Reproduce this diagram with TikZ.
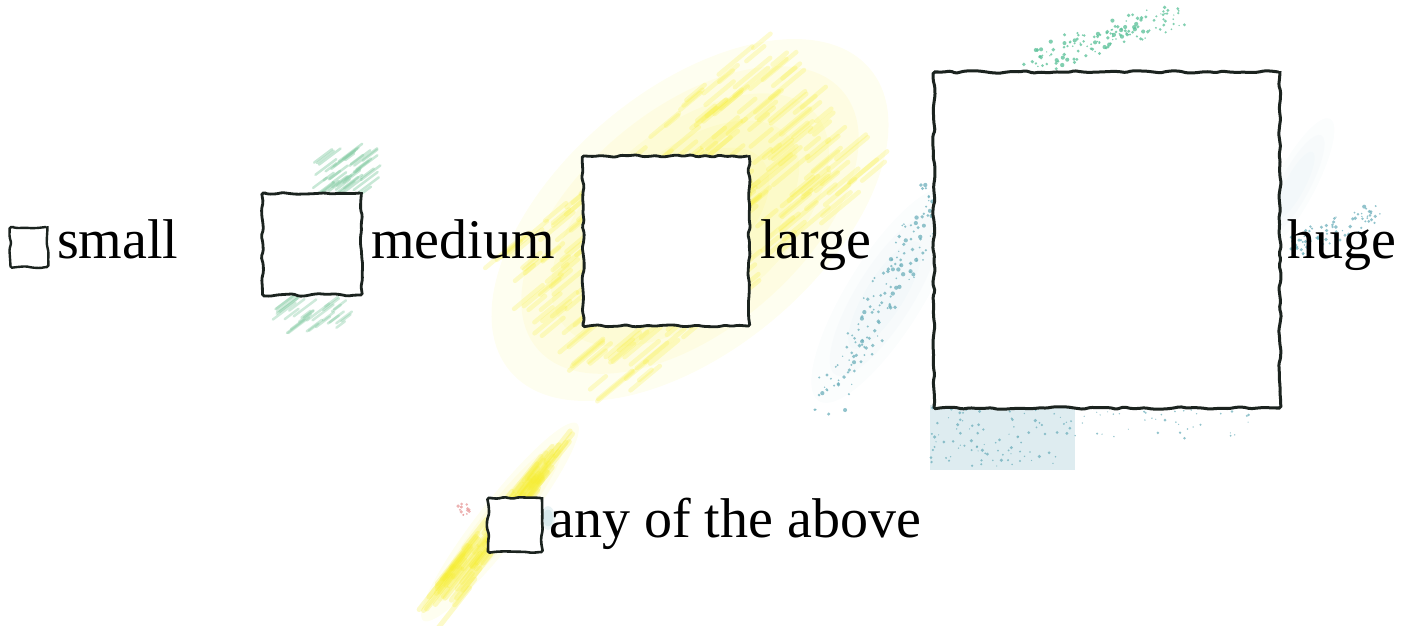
\documentclass[tikz,border=0pt]{standalone}
\usepackage{fontspec}
\setmainfont{Liberation Serif}
\usetikzlibrary{decorations.pathmorphing}
\definecolor{ink}{HTML}{1B231F}
\definecolor{yel}{HTML}{F5EC2C}
\definecolor{tealc}{HTML}{6DAFBB}
\definecolor{greenc}{HTML}{86CBA4}
\definecolor{paleblue}{HTML}{C2DCE4}
\definecolor{pinkc}{HTML}{E79A9A}
\tikzset{
  wob/.style={draw=ink, line width=#1, fill=white, inner sep=0pt, decorate,
    decoration={random steps, segment length=7pt, amplitude=1.3pt}, rounded corners=1.5pt},
  lbl/.style={anchor=base west, inner sep=0pt, font=\fontsize{56}{60}\selectfont, text=black},
  pencil/.style={line cap=round, opacity=0.22, line width=#1},
  speck/.style={fill=#1, opacity=0.75},
  haze/.style={fill=#1, opacity=0.07},
}
\begin{document}
\begin{tikzpicture}[x=1pt,y=-1pt]
\useasboundingbox (0,0) rectangle (1401,626);
\pgfmathsetseed{11}
% ---- yellow haze around the large square
\foreach \f in {1.0,0.85,0.7,0.55,0.4}{
  \fill[haze=yel, rotate around={40:(690,220)}] (690,220) ellipse ({235*\f} and {130*\f});
}
\foreach \i in {1,...,280}{
  \pgfmathsetmacro\t{rand}
  \pgfmathsetmacro\s{rand}
  \pgfmathsetmacro\L{8+18*rnd}
  \pgfmathsetmacro\cx{690+175*\t*0.77+95*\s*0.64}
  \pgfmathsetmacro\cy{220-175*\t*0.64+95*\s*0.77}
  \draw[yel, pencil=4.5pt] (\cx-\L*0.77,\cy+\L*0.64) -- (\cx+\L*0.77,\cy-\L*0.64);
}
% ---- yellow stroke near "any of the above"
\foreach \f in {1.0,0.8,0.6}{
  \fill[haze=yel, rotate around={52:(500,522)}] (500,522) ellipse ({125*\f} and {22*\f});
}
\foreach \i in {1,...,80}{
  \pgfmathsetmacro\t{rand}
  \pgfmathsetmacro\s{rand}
  \pgfmathsetmacro\L{10+20*rnd}
  \pgfmathsetmacro\cx{500+100*\t*0.62+(12-6*\t)*\s*0.79}
  \pgfmathsetmacro\cy{522-100*\t*0.79+(12-6*\t)*\s*0.62}
  \draw[yel, pencil=5pt, opacity=0.25] (\cx-\L*0.62,\cy+\L*0.79) -- (\cx+\L*0.62,\cy-\L*0.79);
}
% ---- green strokes near the medium square
\foreach \i in {1,...,40}{
  \pgfmathsetmacro\cx{345+28*rand}
  \pgfmathsetmacro\cy{172+20*rand}
  \pgfmathsetmacro\L{5+10*rnd}
  \draw[greenc, pencil=2.5pt, opacity=0.45] (\cx-\L*0.8,\cy+\L*0.6) -- (\cx+\L*0.8,\cy-\L*0.6);
}
\foreach \i in {1,...,30}{
  \pgfmathsetmacro\cx{315+32*rand}
  \pgfmathsetmacro\cy{315+14*rand}
  \pgfmathsetmacro\L{5+10*rnd}
  \draw[greenc, pencil=2.5pt, opacity=0.4] (\cx-\L*0.8,\cy+\L*0.6) -- (\cx+\L*0.8,\cy-\L*0.6);
}
% ---- pale blue patch and teal specks around the huge square
\fill[paleblue, opacity=0.55] (930,405) rectangle (1075,470);
\foreach \f in {1.0,0.75,0.5}{
  \fill[haze=paleblue, rotate around={58:(885,295)}] (885,295) ellipse ({125*\f} and {38*\f});
  \fill[haze=paleblue, rotate around={62:(1295,185)}] (1295,185) ellipse ({75*\f} and {20*\f});
}
\foreach \i in {1,...,170}{
  \pgfmathsetmacro\t{rand}
  \pgfmathsetmacro\cx{885+60*\t+16*rand}
  \pgfmathsetmacro\cy{295-110*\t+16*rand}
  \fill[speck=tealc] (\cx,\cy) circle (0.7+1.5*rnd);
}
\foreach \i in {1,...,140}{
  \pgfmathsetmacro\t{rand}
  \pgfmathsetmacro\cx{1105+70*\t+14*rand}
  \pgfmathsetmacro\cy{38-22*\t+12*rand}
  \fill[speck=tealc!80!green] (\cx,\cy) circle (0.7+1.5*rnd);
}
\foreach \i in {1,...,80}{
  \pgfmathsetmacro\t{rand}
  \pgfmathsetmacro\cx{1335+45*\t+10*rand}
  \pgfmathsetmacro\cy{228-18*\t+12*rand}
  \fill[speck=tealc] (\cx,\cy) circle (0.7+1.4*rnd);
}
\foreach \i in {1,...,90}{
  \pgfmathsetmacro\cx{1000+70*rand}
  \pgfmathsetmacro\cy{437+30*rand}
  \fill[speck=tealc] (\cx,\cy) circle (0.6+1.2*rnd);
}
\foreach \i in {1,...,40}{
  \pgfmathsetmacro\cx{1160+90*rand}
  \pgfmathsetmacro\cy{425+15*rand}
  \fill[speck=tealc] (\cx,\cy) circle (0.5+1*rnd);
}
% ---- tiny pink and blue near the last square
\foreach \i in {1,...,14}{
  \pgfmathsetmacro\cx{464+6*rand}
  \pgfmathsetmacro\cy{510+6*rand}
  \fill[speck=pinkc] (\cx,\cy) circle (0.8+1.2*rnd);
}
\foreach \f in {1.0,0.7}{
  \fill[haze=tealc, opacity=0.15] (548,518) ellipse ({7*\f} and {12*\f});
}
% ---- squares
\node[wob=2.4pt, minimum width=37pt, minimum height=40pt] (bsmall) at (29,247) {};
\node[wob=2.8pt, minimum width=99pt, minimum height=102pt] (bmed) at (312,244) {};
\node[wob=2.8pt, minimum width=166pt, minimum height=170pt] (blarge) at (666,241) {};
\node[wob=3pt, minimum width=346pt, minimum height=336pt] (bhuge) at (1107,240) {};
\node[wob=2.6pt, minimum width=54pt, minimum height=54pt] (bany) at (515,525) {};
% ---- labels
\node[lbl] (tsmall) at (57,258) {small};
\node[lbl] (tmed) at (371,258) {medium};
\node[lbl] (tlarge) at (760,258) {large};
\node[lbl] (thuge) at (1287,258) {huge};
\node[lbl] (tany) at (549,537) {any of the above};
\end{tikzpicture}
\end{document}
